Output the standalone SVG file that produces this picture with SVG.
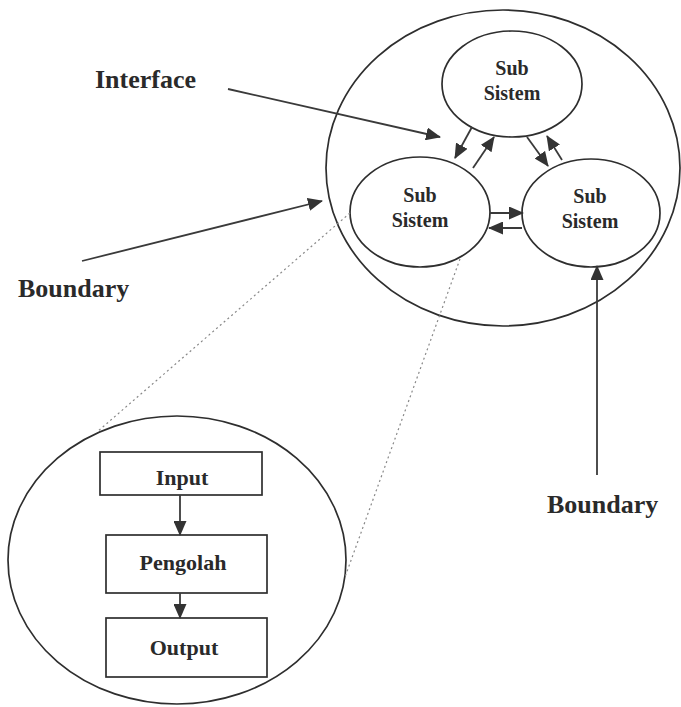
<svg xmlns="http://www.w3.org/2000/svg" width="681" height="707" viewBox="0 0 681 707">
<style>
.sh{fill:none;stroke:#2e2e2e;stroke-width:1.7}
.ln{fill:none;stroke:#3a3a3a;stroke-width:1.8}
.dot{fill:none;stroke:#888;stroke-width:1.2;stroke-dasharray:2 3}
.t{font-family:"Liberation Serif","Times New Roman",serif;font-weight:bold;fill:#2a2a2a}
.lbl{font-size:26px}
.ss{font-size:20px;text-anchor:middle}
.bx{font-size:22px;text-anchor:middle}
</style>
<defs>
<marker id="ah" markerUnits="userSpaceOnUse" markerWidth="15" markerHeight="13" viewBox="0 0 15 13" refX="14" refY="6.5" orient="auto">
<path d="M0,0 L15,6.5 L0,13 Z" fill="#333"/>
</marker>
</defs>
<rect width="681" height="707" fill="#fff"/>
<g id="boundary-outer"><ellipse class="sh" cx="503" cy="168" rx="177" ry="158"/></g>
<g id="sub-top"><ellipse class="sh" cx="512" cy="84" rx="70" ry="53"/><text class="t ss" x="512" y="75">Sub</text><text class="t ss" x="512" y="100">Sistem</text></g>
<g id="sub-left"><ellipse class="sh" cx="420" cy="212" rx="70" ry="55"/><text class="t ss" x="420" y="202">Sub</text><text class="t ss" x="420" y="227">Sistem</text></g>
<g id="sub-right"><ellipse class="sh" cx="591" cy="213" rx="69" ry="54"/><text class="t ss" x="590" y="203">Sub</text><text class="t ss" x="590" y="228">Sistem</text></g>
<g id="detail"><ellipse class="sh" cx="177" cy="560" rx="169" ry="144"/></g>
<g id="input"><rect class="sh" x="100" y="452" width="162" height="43"/><text class="t bx" x="182" y="485">Input</text></g>
<g id="pengolah"><rect class="sh" x="106" y="535" width="161" height="58"/><text class="t bx" x="183" y="570">Pengolah</text></g>
<g id="output"><rect class="sh" x="106" y="618" width="161" height="59"/><text class="t bx" x="184" y="655">Output</text></g>
<g id="label-interface"><text class="t lbl" x="95" y="88">Interface</text></g>
<g id="label-boundary-left"><text class="t lbl" x="18" y="297">Boundary</text></g>
<g id="label-boundary-right"><text class="t lbl" x="547" y="513">Boundary</text></g>
<g id="connectors">
<line class="ln" x1="228" y1="89" x2="440" y2="137" marker-end="url(#ah)"/>
<line class="ln" x1="82" y1="261" x2="322" y2="201" marker-end="url(#ah)"/>
<line class="ln" x1="597" y1="475" x2="597" y2="266" marker-end="url(#ah)"/>
<line class="ln" x1="472" y1="127" x2="455" y2="158" marker-end="url(#ah)"/>
<line class="ln" x1="473" y1="168" x2="494" y2="137" marker-end="url(#ah)"/>
<line class="ln" x1="527" y1="137" x2="548" y2="166" marker-end="url(#ah)"/>
<line class="ln" x1="562" y1="160" x2="547" y2="136" marker-end="url(#ah)"/>
<line class="ln" x1="490" y1="213" x2="523" y2="213" marker-end="url(#ah)"/>
<line class="ln" x1="522" y1="228" x2="489" y2="228" marker-end="url(#ah)"/>
<line class="ln" x1="180" y1="495" x2="180" y2="535" marker-end="url(#ah)"/>
<line class="ln" x1="180" y1="593" x2="180" y2="618" marker-end="url(#ah)"/>
<line class="dot" x1="350" y1="213" x2="97" y2="432"/>
<line class="dot" x1="460" y1="259" x2="345" y2="577"/>
</g>
</svg>
